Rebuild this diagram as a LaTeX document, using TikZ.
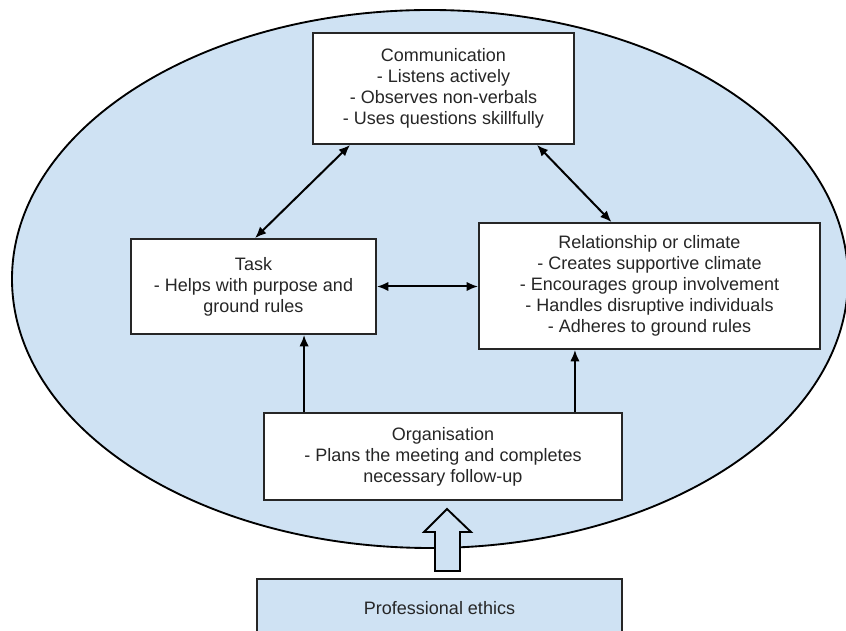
\documentclass[tikz,border=0pt]{standalone}
\usepackage{fontspec}
\setmainfont{Liberation Sans}
\usetikzlibrary{arrows.meta,calc}
\definecolor{paleblue}{HTML}{CFE2F3}

\begin{document}
\begin{tikzpicture}[x=.75pt, y=.75pt,
    box/.style={draw=black!85, line width=1.4pt, fill=white, align=center, inner sep=0pt, text=black!85, font=\fontsize{13.5}{15.75}\selectfont},
    link/.style={line width=1.5pt, {Latex[length=8.5pt,width=7pt]}-{Latex[length=8.5pt,width=7pt]}},
    upward/.style={line width=1.5pt, -{Latex[length=8.5pt,width=7pt]}}]
    \useasboundingbox (0,0) rectangle (846,631);
    \draw[fill=paleblue, line width=1.4pt] (430,352) ellipse [x radius=418, y radius=269];
    \node[box, minimum width=195.75pt, minimum height=83.25pt] (comm) at (443.5,542.5) {Communication\\- Listens actively\\- Observes non-verbals\\- Uses questions skillfully};
    \node[box, minimum width=183.75pt, minimum height=71.25pt] (task) at (253.5,344.5) {Task\\- Helps with purpose and\\ground rules};
    \node[box, minimum width=255.75pt, minimum height=94.5pt] (rel) at (649.5,345) {Relationship or climate\\- Creates supportive climate\\- Encourages group involvement\\- Handles disruptive individuals\\- Adheres to ground rules};
    \node[box, minimum width=268.5pt, minimum height=65.25pt] (org) at (443,174.5) {Organisation\\- Plans the meeting and completes\\necessary follow-up};
    \node[box, fill=paleblue, minimum width=273.75pt, minimum height=42.75pt] (ethics) at (439.5,23.4) {Professional ethics};
    \draw[fill=paleblue, line width=1.4pt] (460,60) -- (460,99) -- (471,99) -- (447,122) -- (424,99) -- (435,99) -- (435,60) -- cycle;
    \draw[link] ($(comm.south west)+(38,0)$) -- ($(task.north)+(1.5,0)$);
    \draw[link] ($(comm.south east)+(-38,0)$) -- ($(rel.north)+(-38,0)$);
    \draw[link] (task.east) -- (task.east -| rel.west);
    \coordinate (o1) at ($(org.north west)+(41,0)$);
    \coordinate (o2) at ($(org.north east)+(-48,0)$);
    \draw[upward] (o1) -- (o1 |- task.south);
    \draw[upward] (o2) -- (o2 |- rel.south);
\end{tikzpicture}
\end{document}
